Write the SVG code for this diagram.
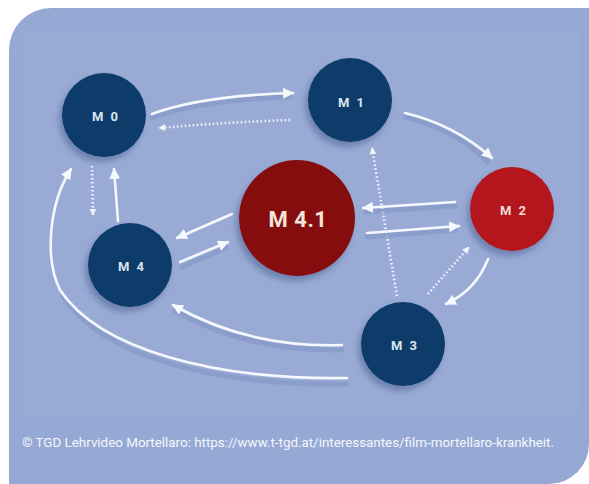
<svg xmlns="http://www.w3.org/2000/svg" width="589" height="484" viewBox="0 0 589 484">
<defs>
<style>
.lbl{font-family:"Roboto","Liberation Sans",sans-serif;font-weight:bold;fill:#dce5f0;text-anchor:middle;dominant-baseline:central;letter-spacing:2px}
.sol{fill:none;stroke:#f5f8fd;stroke-width:2.6;stroke-linecap:round}
.dot{fill:none;stroke:#f0f4fb;stroke-width:2.6;stroke-dasharray:1.5 2.5;stroke-linecap:butt}
.sh{fill:none;stroke:#7f93c3;stroke-width:5;stroke-linecap:round;opacity:.55}
.blue{fill:#0c3a6a}
</style>
<marker id="ah" viewBox="0 0 10 10" refX="9" refY="5" markerWidth="11" markerHeight="11" markerUnits="userSpaceOnUse" orient="auto">
<path d="M0,0 L10,5 L0,10 Z" fill="#f5f8fd"/>
</marker>
<marker id="ahs" viewBox="0 0 10 10" refX="9" refY="5" markerWidth="7" markerHeight="7" markerUnits="userSpaceOnUse" orient="auto">
<path d="M0,0 L10,5 L0,10 Z" fill="#f0f4fb"/>
</marker>
<filter id="ds" x="-30%" y="-30%" width="160%" height="160%">
<feDropShadow dx="-3" dy="5" stdDeviation="3" flood-color="#4a5f92" flood-opacity="0.55"/>
</filter>
</defs>
<path d="M51,8 H589 V444 A40,40 0 0 1 549,484 H9 V50 A42,42 0 0 1 51,8 Z" fill="#96a9d4"/>
<rect x="22" y="32" width="558" height="382" fill="#ffffff" opacity="0.03"/>
<g id="connectors">
<path class="sh" d="M152,118 Q200,100 290,97"/>
<path class="sol" d="M152,114 Q200,96 293,93" marker-end="url(#ah)"/>
<path class="dot" d="M290,120 Q230,122 159,128" marker-end="url(#ahs)"/>
<path class="sh" d="M405,117 Q455,129 488,162"/>
<path class="sol" d="M405,113 Q455,125 492,158" marker-end="url(#ah)"/>
<path class="dot" d="M397,296 L372,148" marker-end="url(#ahs)"/>
<path class="sh" d="M455,206 L366,212"/>
<path class="sol" d="M455,202 L363,208" marker-end="url(#ah)"/>
<path class="sh" d="M367,237 L455,230"/>
<path class="sol" d="M367,233 L459,226" marker-end="url(#ah)"/>
<path class="sol" d="M488,259 Q476,290 446,304" marker-end="url(#ah)"/>
<path class="dot" d="M428,294 L469,247" marker-end="url(#ahs)"/>
<path class="sol" d="M232,214 L177,238" marker-end="url(#ah)"/>
<path class="sh" d="M182,267 L226,248"/>
<path class="sol" d="M180,262 L228,242" marker-end="url(#ah)"/>
<path class="dot" d="M92,166 L93,215" marker-end="url(#ahs)"/>
<path class="sol" d="M118,221 L114,169" marker-end="url(#ah)"/>
<path class="sh" d="M342,350 Q248,352 175,311"/>
<path class="sol" d="M342,345 Q248,348 173,305" marker-end="url(#ah)"/>
<path class="sh" d="M347,384 C215,386 100,356 63,296"/>
<path class="sol" d="M347,378 C215,380 100,350 60,290 C45,260 48,205 71,169" marker-end="url(#ah)"/>
</g>
<g id="M0"><circle class="blue" cx="104" cy="115" r="42" filter="url(#ds)"/><text class="lbl" x="106" y="116" font-size="13">M 0</text></g>
<g id="M1"><circle class="blue" cx="350" cy="100" r="42" filter="url(#ds)"/><text class="lbl" x="352" y="102" font-size="13">M 1</text></g>
<g id="M2"><circle cx="512" cy="209" r="42" fill="#b3141a" filter="url(#ds)"/><text class="lbl" x="514" y="210" font-size="13" style="fill:#f0dcd6">M 2</text></g>
<g id="M41"><circle cx="297" cy="218" r="58" fill="#850b0d" filter="url(#ds)"/><text class="lbl" x="298" y="219" font-size="22" style="fill:#f3e4dc;letter-spacing:0.5px">M 4.1</text></g>
<g id="M4"><circle class="blue" cx="130" cy="265" r="42" filter="url(#ds)"/><text class="lbl" x="132" y="266" font-size="13">M 4</text></g>
<g id="M3"><circle class="blue" cx="403" cy="344" r="42" filter="url(#ds)"/><text class="lbl" x="405" y="345" font-size="13">M 3</text></g>
<text x="22" y="447" font-family="Roboto, 'Liberation Sans', sans-serif" font-size="13.5" fill="#f4f6fb" textLength="532" lengthAdjust="spacingAndGlyphs">© TGD Lehrvideo Mortellaro: https://www.t-tgd.at/interessantes/film-mortellaro-krankheit.</text>
</svg>
